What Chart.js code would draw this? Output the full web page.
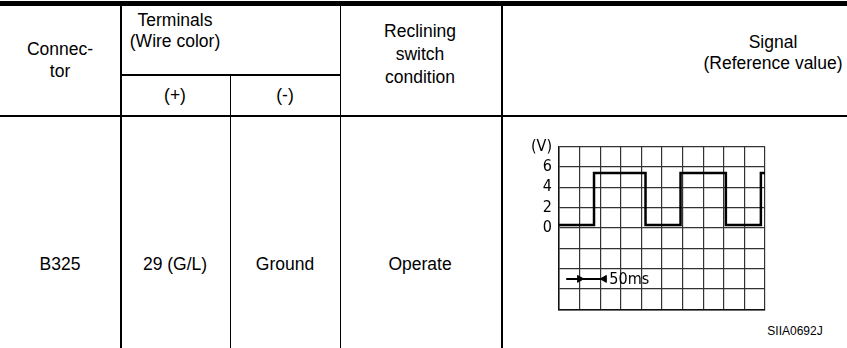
<!DOCTYPE html>
<html>
<head>
<meta charset="utf-8">
<script src="https://cdn.jsdelivr.net/npm/chart.js@4/dist/chart.umd.min.js"></script>
<style>
  html, body { margin: 0; padding: 0; background: #fff; }
  #page { position: relative; width: 847px; height: 348px; overflow: hidden;
          font-family: "Liberation Sans", Arial, sans-serif; font-size: 17.5px; color: #000; }
  .hl { position: absolute; height: 1.5px; background: #000; }
  .vl { position: absolute; width: 1.5px; background: #000; }
  .t { position: absolute; transform: translate(-50%, -50%); white-space: nowrap; line-height: 1; }
  #scope { position: absolute; left: 500px; top: 130px; width: 290px; height: 196px; }
</style>
</head>
<body>
<div id="page">
  <div class="hl" style="left:0; top:1px; width:847px; height:5px;"></div>
  <div class="hl" style="left:120px; top:74px; width:221px;"></div>
  <div class="hl" style="left:0; top:115px; width:847px;"></div>
  <div class="vl" style="left:120px; top:6px; height:342px;"></div>
  <div class="vl" style="left:229.5px; top:75px; height:273px;"></div>
  <div class="vl" style="left:339.5px; top:6px; height:342px;"></div>
  <div class="vl" style="left:501px; top:6px; height:342px;"></div>

  <div class="t" style="left:60px; top:50px;">Connec-</div>
  <div class="t" style="left:60px; top:72px;">tor</div>
  <div class="t" style="left:175px; top:21px;">Terminals</div>
  <div class="t" style="left:175px; top:42px;">(Wire color)</div>
  <div class="t" style="left:175px; top:96px;">(+)</div>
  <div class="t" style="left:285px; top:96px;">(-)</div>
  <div class="t" style="left:420px; top:32px;">Reclining</div>
  <div class="t" style="left:420px; top:55px;">switch</div>
  <div class="t" style="left:420px; top:78px;">condition</div>
  <div class="t" style="left:773px; top:43px;">Signal</div>
  <div class="t" style="left:773px; top:64px;">(Reference value)</div>

  <div class="t" style="left:60px; top:265px;">B325</div>
  <div class="t" style="left:175px; top:265px;">29 (G/L)</div>
  <div class="t" style="left:285px; top:265px;">Ground</div>
  <div class="t" style="left:420px; top:265px;">Operate</div>
  <div class="t" style="left:795px; top:331px; font-size:12px;">SIIA0692J</div>

  <div id="scope"><canvas id="scopeChart"></canvas></div>
</div>
<script>
// waveform (x in divisions, y in volts)
const signalTimes = [0, 1.7, 4.2, 5.9, 8.1, 9.8, 10];
const signalVolts = [0.3, 5.4, 0.3, 5.4, 0.3, 5.4, 5.4];
const voltTicks = [0, 2, 4, 6];
const voltUnit = '(V)';
// time-base marker
const markerTimes = [0.35, 2.2];
const markerHeadTimes = [1.0, 2.2];
const markerVolt = -5;
const markerLabel = '50ms';

const scopeFont = { family: '"DejaVu Sans Condensed", "DejaVu Sans", sans-serif', size: 16 };

const markerText = {
    id: 'markerText',
    afterDatasetsDraw(chart) {
        const { ctx, scales } = chart;
        ctx.save();
        ctx.font = scopeFont.size + 'px ' + scopeFont.family;
        ctx.fillStyle = '#000';
        ctx.textBaseline = 'middle';
        ctx.fillText(markerLabel, scales.x.getPixelForValue(markerTimes[1]) + 5, scales.y.getPixelForValue(markerVolt) + 1);
        ctx.restore();
    }
};

const ctx = document.getElementById('scopeChart');

new Chart(ctx, {
    type: 'scatter',
    data: {
        datasets: [{
            data: signalTimes.map((t, i) => ({ x: t, y: signalVolts[i] })),
            showLine: true,
            stepped: true,
            borderColor: '#000',
            borderWidth: 2.5,
            pointRadius: 0
        }, {
            data: markerTimes.map(t => ({ x: t, y: markerVolt })),
            showLine: true,
            borderColor: '#000',
            borderWidth: 2,
            pointRadius: 0
        }, {
            data: markerHeadTimes.map(t => ({ x: t, y: markerVolt })),
            showLine: false,
            pointStyle: 'triangle',
            pointRotation: [90, -90],
            pointRadius: 4,
            backgroundColor: '#000',
            borderColor: '#000'
        }]
    },
    options: {
        responsive: true,
        maintainAspectRatio: false,
        animation: false,
        events: [],
        layout: { padding: { top: 15, right: 25, bottom: 14, left: 0 } },
        plugins: { legend: { display: false }, tooltip: { enabled: false } },
        scales: {
            x: {
                type: 'linear',
                min: 0,
                max: 10,
                ticks: { display: false, stepSize: 1 },
                grid: { color: '#333', lineWidth: 1.2, drawTicks: false },
                border: { color: '#111', width: 1.5 },
                afterFit(scale) { scale.height = 0; }
            },
            y: {
                min: -8,
                max: 8,
                ticks: {
                    stepSize: 2,
                    autoSkip: false,
                    color: '#000',
                    font: scopeFont,
                    padding: 7,
                    callback: function (v) {
                        if (v === 8) return voltUnit;
                        return voltTicks.includes(v) ? String(v) : '';
                    }
                },
                grid: { color: '#333', lineWidth: 1.2, drawTicks: false },
                border: { color: '#111', width: 1.5 },
                afterFit(scale) { scale.width = 59; }
            }
        }
    },
    plugins: [markerText]
});
</script>
</body>
</html>
